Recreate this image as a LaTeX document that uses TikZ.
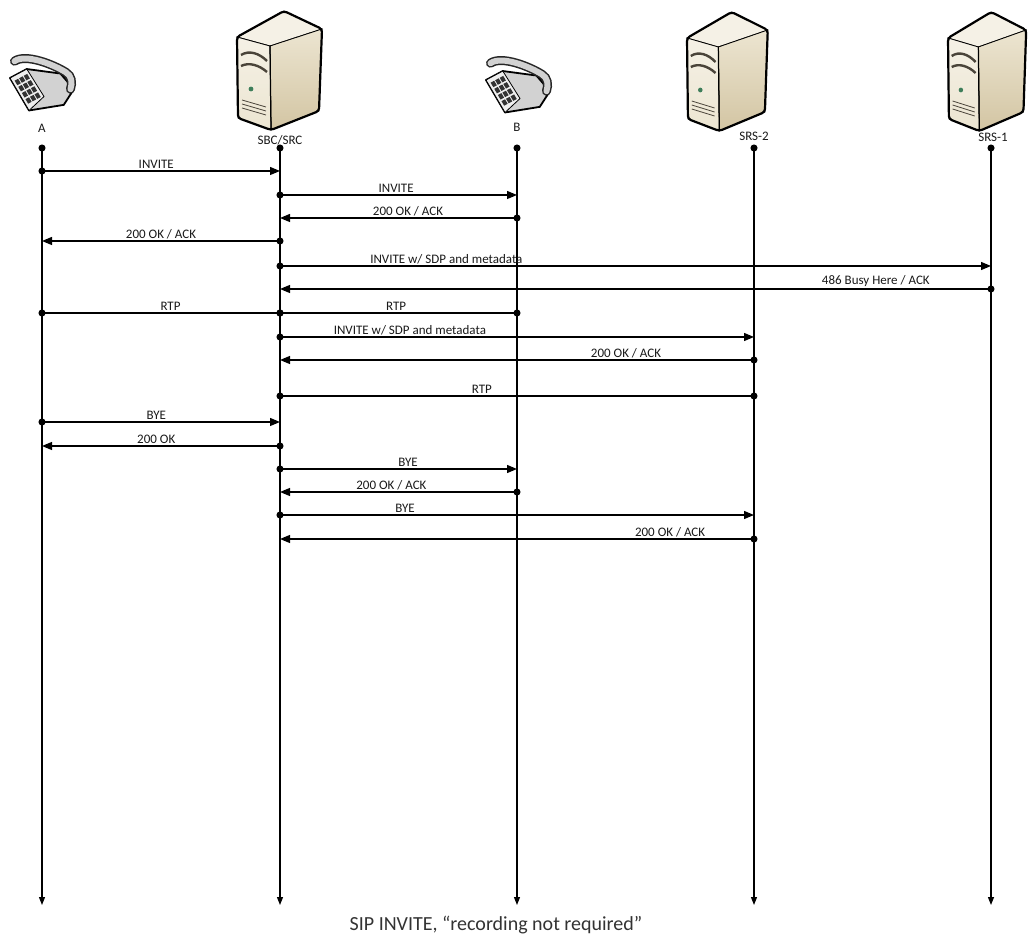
\documentclass[tikz,border=0pt]{standalone}
\usepackage{fontspec}
\setmainfont{Carlito}
\usetikzlibrary{arrows.meta,positioning}

\definecolor{srvtop}{HTML}{F5F1E6}
\definecolor{srvfront}{HTML}{ECE5D1}
\definecolor{srvside}{HTML}{D3C5A3}
\definecolor{srvdark}{HTML}{4A443A}
\definecolor{srvgreen}{HTML}{3E7E5A}
\definecolor{phbody}{HTML}{D2D2D2}
\definecolor{phface}{HTML}{EFEFEF}
\definecolor{phkey}{HTML}{333333}

\tikzset{
  dot tip/.tip={Circle[length=7pt]},
  lifeline/.style={line width=1.3pt, {dot tip}-{Triangle[length=8pt,width=6pt]}, shorten <=-3.5pt},
  msg/.style={line width=1.2pt, {dot tip}-{Triangle[length=10pt,width=8pt]}, shorten <=-3.5pt},
  stream/.style={line width=1.2pt, {dot tip}-{dot tip}, shorten <=-3.5pt, shorten >=-3.5pt},
  lbl/.style={above, inner sep=1.5pt, font=\fontsize{13}{15}\selectfont, text=black!90},
  head/.style={font=\fontsize{13}{15}\selectfont, text=black!90},
  server/.pic={
    \draw[line width=0.8pt, fill=srvtop] (0,0) -- (47,-26) -- (85,-8) -- (33,9) -- cycle;
    \draw[line width=0.8pt, top color=srvfront, bottom color=srvside] (33,9) -- (85,-8) -- (82,74) -- (34,93) -- cycle;
    \draw[line width=0.8pt, top color=srvtop, bottom color=srvfront] (0,0) -- (33,9) -- (34,93) -- (1,81) -- cycle;
    \draw[line width=1.2pt] (33,9) -- (34,93);
    % drive bays
    \draw[line width=2.4pt, srvdark] (4,18) .. controls (12,13) and (22,16) .. (30,24);
    \draw[line width=2.4pt, srvdark] (4,29) .. controls (12,25) and (22,28) .. (30,35);
    \fill[srvgreen] (14,52) circle[radius=2.4pt];
    \foreach \k in {0,1,2}
      \draw[srvdark, line width=0.8pt] (5,63+4*\k) -- (29,70+4*\k);
    \draw[line width=2.2pt, rounded corners=3pt, line join=round]
      (0,0) -- (47,-26) -- (85,-8) -- (82,74) -- (34,93) -- (1,81) -- cycle;
  },
  phone/.pic={
    % body
    \draw[line width=1.8pt, line join=round, fill=phbody]
      (-25,0) -- (-10,-8) -- (20,-4) -- (32,10) -- (23,24) -- (-8,29) -- cycle;
    \begin{scope}[shift={(-25,0)}, x={(15pt,8pt)}, y={(17pt,-29pt)}]
      \draw[line width=0.8pt, line join=round, fill=phface] (0,0) -- (1,0) -- (1.05,0.86) -- (0,1) -- cycle;
      \foreach \i in {0,1,2}
        \foreach \j in {0,1,2,3}
          \fill[phkey] (0.14+0.27*\i, 0.12+0.19*\j) -- ++(0.21,0) -- ++(0,0.14) -- ++(-0.21,0) -- cycle;
    \end{scope}
    % handset
    \draw[line width=9pt, line cap=round, black!85]
      (-21,-15) .. controls (-11,-22) and (14,-12) .. (25,-5) .. controls (30,-2) and (31,4) .. (29,10);
    \draw[line width=6pt, line cap=round, phbody]
      (-21,-15) .. controls (-11,-22) and (14,-12) .. (25,-5) .. controls (30,-2) and (31,4) .. (29,10);
  }
}

\begin{document}
\begin{tikzpicture}[x=1pt, y=-1pt]
  \useasboundingbox (0,0) rectangle (1029,941);

  % icons
  \pic[scale=1.12] at (38,78) {phone};
  \pic at (237,37) {server};
  \pic[scale=1.12] at (514,80) {phone};
  \pic[xscale=0.95] at (687,38) {server};
  \pic[xscale=0.92] at (948,38) {server};

  % lifeline heads
  \node[head] (labA) at (42,128) {A};
  \node[head] (labSBC) at (280,140) {SBC/SRC};
  \node[head] (labB) at (517,127) {B};
  \node[head] (labSRS2) at (754,136) {SRS-2};
  \node[head] (labSRS1) at (993,137) {SRS-1};

  \foreach \n/\x in {A/42,SBC/280,B/517,SRS2/754,SRS1/991}{
    \coordinate (\n) at (\x,148);
    \coordinate (\n-end) at (\x,905);
    \draw[lifeline] (\n) -- (\n-end);
  }

  % call setup
  \draw[msg] (A |- 0,171) -- node[lbl,pos=0.48]{INVITE} (SBC |- 0,171);
  \draw[msg] (SBC |- 0,195) -- node[lbl,pos=0.49]{INVITE} (B |- 0,195);
  \draw[msg] (B |- 0,218) -- node[lbl,pos=0.46]{200 OK / ACK} (SBC |- 0,218);
  \draw[msg] (SBC |- 0,241) -- node[lbl,pos=0.5]{200 OK / ACK} (A |- 0,241);
  \draw[msg] (SBC |- 0,266) -- node[lbl,pos=0.234]{INVITE w/ SDP and metadata} (SRS1 |- 0,266);
  \draw[msg] (SRS1 |- 0,289) -- node[lbl,pos=0.162]{486 Busy Here / ACK} (SBC |- 0,289);
  \draw[stream] (A |- 0,313) -- node[lbl,pos=0.54]{RTP} (SBC |- 0,313);
  \draw[stream] (SBC |- 0,313) -- node[lbl,pos=0.49]{RTP} (B |- 0,313);
  \draw[msg] (SBC |- 0,337) -- node[lbl,pos=0.274]{INVITE w/ SDP and metadata} (SRS2 |- 0,337);
  \draw[msg] (SRS2 |- 0,360) -- node[lbl,pos=0.27]{200 OK / ACK} (SBC |- 0,360);
  \draw[stream] (SBC |- 0,396) -- node[lbl,pos=0.426]{RTP} (SRS2 |- 0,396);

  % teardown
  \draw[msg] (A |- 0,422) -- node[lbl,pos=0.48]{BYE} (SBC |- 0,422);
  \draw[msg] (SBC |- 0,446) -- node[lbl,pos=0.52]{200 OK} (A |- 0,446);
  \draw[msg] (SBC |- 0,469) -- node[lbl,pos=0.54]{BYE} (B |- 0,469);
  \draw[msg] (B |- 0,492) -- node[lbl,pos=0.53]{200 OK / ACK} (SBC |- 0,492);
  \draw[msg] (SBC |- 0,515) -- node[lbl,pos=0.264]{BYE} (SRS2 |- 0,515);
  \draw[msg] (SRS2 |- 0,539) -- node[lbl,pos=0.177]{200 OK / ACK} (SBC |- 0,539);

  \node[font=\fontsize{20}{24}\selectfont, text=black!80] (caption) at (496,925) {SIP INVITE, “recording not required”};
\end{tikzpicture}
\end{document}
